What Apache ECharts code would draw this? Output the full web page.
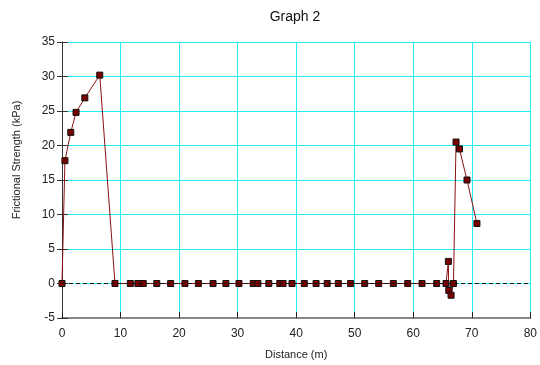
<!DOCTYPE html>
<html lang="en">
<head>
    <meta charset="UTF-8">
    <title>Graph 2</title>
    <script src="https://cdn.jsdelivr.net/npm/echarts@6/dist/echarts.min.js"></script>
    <style>
        html, body {
            margin: 0;
            padding: 0;
            background: #fff;
        }
        #box {
            width: 540px;
            height: 365px;
        }
    </style>
</head>
<body>
<div id="box"></div>
<script>
    // distance along the profile (m)
    var distance = [0, 0.5, 1.5, 2.4, 3.9, 6.45, 9.05, 11.67, 12.96, 13.88, 16.19, 18.56,
        21.0, 23.3, 25.8, 28.0, 30.23, 32.66, 33.46, 35.33, 37.2, 37.76, 39.29, 41.39,
        43.4, 45.3, 47.2, 49.3, 51.7, 54.1, 56.6, 59.05, 61.5, 64.0, 65.6, 66.0, 66.07,
        66.46, 66.87, 67.31, 67.89, 69.18, 70.88];
    // frictional strength (kPa)
    var strength = [0, 17.8, 21.9, 24.8, 26.9, 30.2, 0, 0, 0, 0, 0, 0,
        0, 0, 0, 0, 0, 0, 0, 0, 0, 0, 0, 0,
        0, 0, 0, 0, 0, 0, 0, 0, 0, 0, 0, 3.2, -1.0,
        -1.7, 0, 20.5, 19.5, 15.0, 8.7];
    var xTicks = [0, 80, 10];   // min, max, step
    var yTicks = [-5, 35, 5];

    var points = distance.map(function (d, i) {
        return [d, strength[i]];
    });

    var font = "'Liberation Sans', Arial, sans-serif";
    var myChart = echarts.init(document.getElementById('box'));
    var option = {
        animation: false,
        title: {
            text: 'Graph 2',
            left: 290,
            top: 5,
            textAlign: 'center',
            textStyle: {
                fontFamily: font,
                fontSize: 14,
                fontWeight: 'normal',
                color: '#111'
            }
        },
        grid: {
            left: 62,
            right: 7,
            top: 42,
            bottom: 47
        },
        xAxis: {
            type: 'value',
            min: xTicks[0],
            max: xTicks[1],
            interval: xTicks[2],
            name: 'Distance (m)',
            nameLocation: 'middle',
            nameGap: 31,
            nameTextStyle: {fontFamily: font, fontSize: 11, color: '#222'},
            axisLine: {onZero: false, lineStyle: {color: '#888', width: 2}},
            axisTick: {inside: true, length: 6, lineStyle: {color: '#222'}},
            axisLabel: {margin: 10, fontFamily: font, fontSize: 12, color: '#222'},
            splitLine: {show: true, lineStyle: {color: '#22eef6', width: 1}}
        },
        yAxis: [{
            type: 'value',
            min: yTicks[0],
            max: yTicks[1],
            interval: yTicks[2],
            axisLine: {show: true, onZero: false, lineStyle: {color: '#333'}},
            axisTick: {show: true, length: 5, lineStyle: {color: '#333'}},
            axisLabel: {margin: 7, fontFamily: font, fontSize: 12, color: '#222'},
            splitLine: {show: true, lineStyle: {color: '#22eef6', width: 1}}
        }, {
            // inner half of the crossing ticks
            type: 'value',
            position: 'left',
            min: yTicks[0],
            max: yTicks[1],
            interval: yTicks[2],
            axisLine: {show: false},
            axisTick: {show: true, inside: true, length: 6, lineStyle: {color: '#333'}},
            axisLabel: {show: false},
            splitLine: {show: false}
        }],
        graphic: [{
            type: 'text',
            x: 17,
            y: 160,
            rotation: Math.PI / 2,
            style: {
                text: 'Frictional Strength (kPa)',
                fontFamily: font,
                fontSize: 11,
                fill: '#222',
                align: 'center',
                verticalAlign: 'middle'
            }
        }],
        series: [{
            type: 'line',
            data: points,
            symbol: 'rect',
            symbolSize: 6,
            lineStyle: {color: '#8b1010', width: 1},
            itemStyle: {color: '#7a0000', borderColor: '#111', borderWidth: 1},
            z: 3,
            markLine: {
                silent: true,
                symbol: 'none',
                label: {show: false},
                lineStyle: {color: '#111', type: [4, 3], width: 1},
                data: [{yAxis: 0}]
            }
        }]
    };
    myChart.setOption(option);
</script>
</body>
</html>
